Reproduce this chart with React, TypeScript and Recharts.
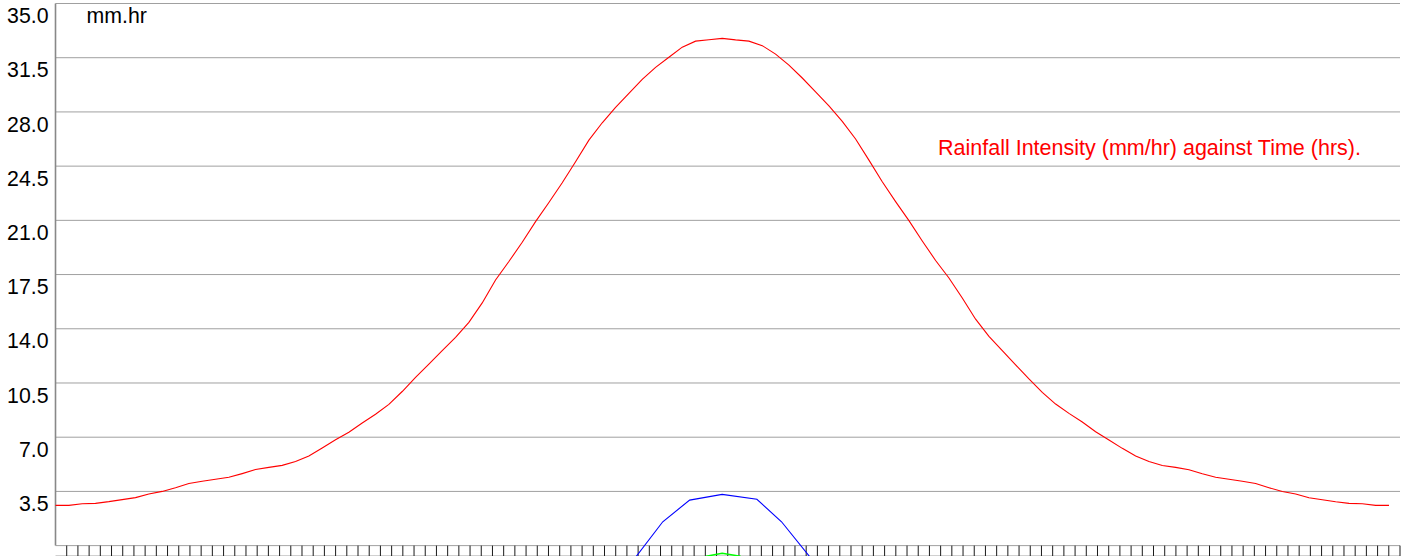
import { LineChart, Line, XAxis, YAxis, CartesianGrid, ReferenceLine } from "recharts";

// rainfall intensity (mm/hr), one value per time step
const redIntensity = [
  2.6, 2.6, 2.7, 2.73, 2.84, 2.97, 3.1, 3.33, 3.5, 3.74,
  4.01, 4.16, 4.29, 4.41, 4.65, 4.91, 5.05, 5.18, 5.43, 5.78,
  6.3, 6.84, 7.32, 7.92, 8.48, 9.12, 9.95, 10.86, 11.72, 12.59,
  13.44, 14.41, 15.67, 17.15, 18.34, 19.59, 20.92, 22.15, 23.43, 24.78,
  26.18, 27.3, 28.3, 29.2, 30.1, 30.88, 31.53, 32.18, 32.57, 32.66,
  32.75, 32.65, 32.57, 32.28, 31.73, 31.02, 30.19, 29.29, 28.39, 27.39,
  26.25, 24.89, 23.49, 22.21, 20.98, 19.67, 18.41, 17.28, 15.99, 14.62,
  13.51, 12.59, 11.67, 10.76, 9.89, 9.14, 8.54, 7.98, 7.35, 6.82,
  6.28, 5.78, 5.43, 5.17, 5.05, 4.9, 4.64, 4.41, 4.28, 4.16,
  4.01, 3.74, 3.49, 3.33, 3.09, 2.96, 2.83, 2.73, 2.7, 2.6, 2.6,
];

const blueTime = [51.3, 54.2, 56.6, 59.5, 62.6, 64.8, 67.8];
const blueValue = [-1.2, 1.54, 2.94, 3.31, 2.99, 1.54, -1.15];

const greenTime = [56.6, 58.1, 59.5, 61.1, 62.6];
const greenValue = [-1.3, -0.68, -0.5, -0.68, -1.3];

const yTicks = [0, 3.5, 7, 10.5, 14, 17.5, 21, 24.5, 28, 31.5, 35];
const timeTicks = Array.from({ length: 120 }, (_, k) => k + 1);
const Y_MIN = -0.67;

const FONT = "Arial, 'Liberation Sans', sans-serif";

const redData = redIntensity.map((v, i) => ({ step: i, v }));
const blueData = blueTime.map((t, i) => ({ t, v: blueValue[i] }));
const greenData = greenTime.map((t, i) => ({ t, v: greenValue[i] }));

function YTick(props: any) {
  const { y, payload } = props;
  if (payload.value === 0) return null;
  return (
    <text x={48.5} y={y + 19.7} textAnchor="end" fontSize={21.3} fontFamily={FONT} fill="#000">
      {Number(payload.value).toFixed(1)}
    </text>
  );
}

export default function App() {
  return (
    <div style={{ position: "absolute", left: 0, top: 0, width: 1405, height: 556, overflow: "hidden", background: "#fff" }}>
      <LineChart width={1405} height={556} data={redData} margin={{ top: 3.5, right: 5, bottom: 0, left: 0.5 }}>
        <CartesianGrid vertical={false} stroke="#a0a0a0" xAxisId="t" yAxisId="y" />
        <XAxis xAxisId="t" type="number" dataKey="t" domain={[0, 120]} allowDataOverflow hide />
        <XAxis xAxisId="r" type="category" dataKey="step" hide padding={{ left: 0, right: 11 }} />
        <YAxis
          yAxisId="y"
          type="number"
          domain={[Y_MIN, 35]}
          allowDataOverflow
          ticks={yTicks}
          interval={0}
          width={55}
          axisLine={false}
          tickLine={false}
          tick={<YTick />}
        />
        <ReferenceLine
          xAxisId="t"
          yAxisId="y"
          segment={[{ x: 0, y: 0 }, { x: 0, y: 35 }]}
          stroke="#888"
          strokeWidth={1.6}
          ifOverflow="visible"
        />
        {timeTicks.map((t) => (
          <ReferenceLine
            key={t}
            xAxisId="t"
            yAxisId="y"
            segment={[{ x: t, y: 0 }, { x: t, y: Y_MIN }]}
            stroke="#1a1a1a"
            strokeWidth={1}
            ifOverflow="visible"
          />
        ))}
        <Line xAxisId="r" yAxisId="y" dataKey="v" stroke="#ff0000" strokeWidth={1.1} dot={false} activeDot={false} isAnimationActive={false} />
        <Line xAxisId="t" yAxisId="y" data={blueData} dataKey="v" stroke="#0000ff" strokeWidth={1.1} dot={false} activeDot={false} isAnimationActive={false} />
        <Line xAxisId="t" yAxisId="y" data={greenData} dataKey="v" stroke="#00ff00" strokeWidth={1.5} dot={false} activeDot={false} isAnimationActive={false} />
      </LineChart>
      <div style={{ position: "absolute", left: 86.5, top: 5.5, fontFamily: FONT, fontSize: 21.3, lineHeight: "21px", color: "#000", whiteSpace: "nowrap" }}>
        mm.hr
      </div>
      <div style={{ position: "absolute", left: 938, top: 138, fontFamily: FONT, fontSize: 21.5, lineHeight: "21px", color: "#ff0000", whiteSpace: "nowrap" }}>
        Rainfall Intensity (mm/hr) against Time (hrs).
      </div>
    </div>
  );
}
